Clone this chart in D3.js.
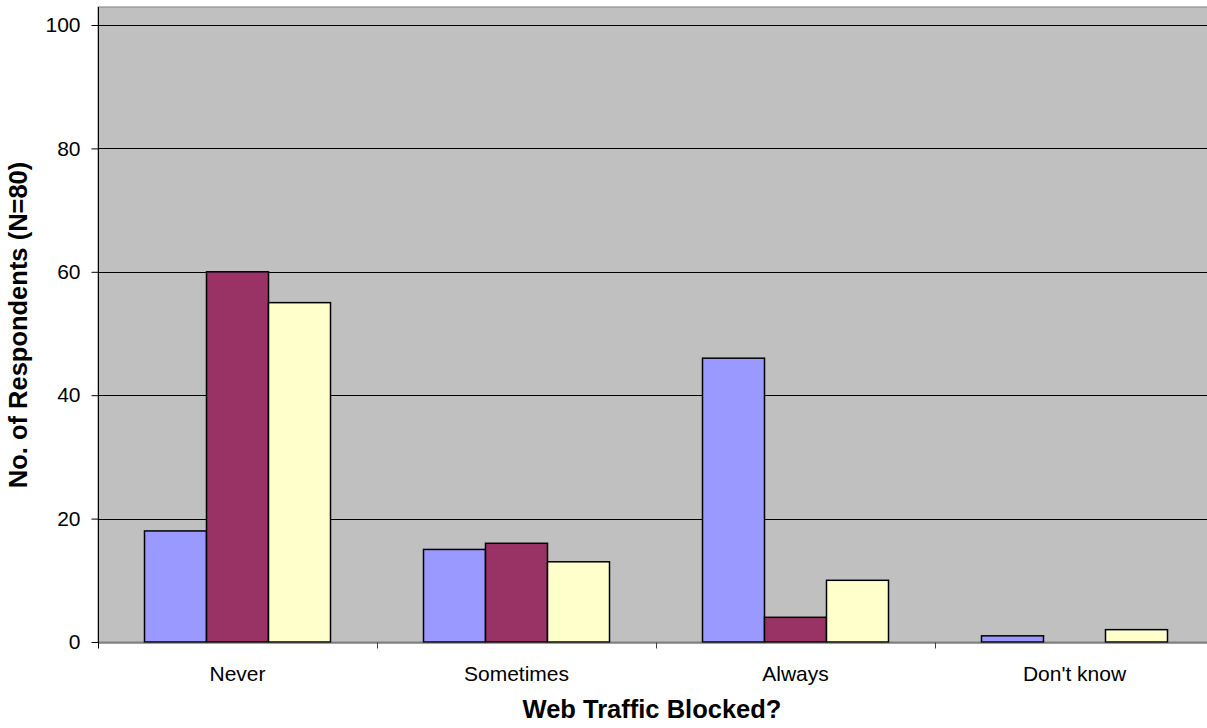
<!DOCTYPE html>
<html><head><meta charset="utf-8">
<script src="https://cdn.jsdelivr.net/npm/d3@7"></script>
<style>body{margin:0;background:#fff}svg{display:block}text{font-family:"Liberation Sans",Arial,sans-serif}</style>
</head><body><svg id="c" width="1207" height="728"></svg>
<script>
const categories = ["Never","Sometimes","Always","Don't know"];
const series1 = [18,15,46,1];
const series2 = [60,16,4,0];
const series3 = [55,13,10,2];
const colors = ["#9999FF","#993366","#FFFFCC"];
const yTicks = [0,20,40,60,80,100];

const svg = d3.select("#c");
const L = 98, R = 1214, B = 642, T100 = 25, plotTop = 7;
const x = d3.scaleBand().domain(categories).range([L,R]).paddingInner(0).paddingOuter(0);
const y = d3.scaleLinear().domain([0,100]).range([B,T100]);
const xs = d3.scaleBand().domain([0,1,2]).range([0, x.bandwidth()]).paddingInner(0).paddingOuter(0.75);

svg.append("rect").attr("x",L).attr("y",plotTop).attr("width",R-L).attr("height",B-plotTop)
  .attr("fill","#C0C0C0").attr("stroke","#808080").attr("stroke-width",1);

// gridlines
svg.append("g").selectAll("line").data(yTicks.filter(d=>d>0)).join("line")
  .attr("x1",L).attr("x2",R).attr("y1",d=>Math.round(y(d))+0.5).attr("y2",d=>Math.round(y(d))+0.5)
  .attr("stroke","#000").attr("stroke-width",1);

const data = categories.map((c,i)=>[series1[i],series2[i],series3[i]].map((v,j)=>({c,j,v})));
svg.append("g").selectAll("rect").data(data.flat().filter(d=>d.v>0)).join("rect")
  .attr("x",d=>x(d.c)+xs(d.j)).attr("width",xs.bandwidth())
  .attr("y",d=>y(d.v)).attr("height",d=>B-y(d.v))
  .attr("fill",d=>colors[d.j]).attr("stroke","#000").attr("stroke-width",1.5);

// y axis
const ya = svg.append("g").attr("transform",`translate(${L+0.5},0)`)
  .call(d3.axisLeft(y).tickValues(yTicks).tickSize(7).tickPadding(11));
ya.select(".domain").remove();
ya.append("line").attr("x1",0).attr("x2",0).attr("y1",plotTop).attr("y2",B+6).attr("stroke","#000");
ya.selectAll(".tick line").attr("stroke","#000");
ya.selectAll("text").attr("font-size",21).attr("fill","#000").style("font-family","'Liberation Sans',Arial,sans-serif");

// x axis
const xa = svg.append("g").attr("transform",`translate(0,${B+0.5})`)
  .call(d3.axisBottom(x).tickSize(0).tickPadding(24));
xa.select(".domain").attr("stroke","#404040");
xa.selectAll("text").attr("font-size",21).attr("fill","#000").style("font-family","'Liberation Sans',Arial,sans-serif");
xa.selectAll("line.sep").data(categories.slice(1)).join("line").attr("class","sep")
  .attr("x1",d=>Math.round(x(d))+0.5).attr("x2",d=>Math.round(x(d))+0.5).attr("y1",0).attr("y2",6).attr("stroke","#404040");
xa.append("line").attr("x1",L+0.5).attr("x2",L+0.5).attr("y1",0).attr("y2",6).attr("stroke","#000");

svg.append("text").attr("x",(L+R)/2-4).attr("y",718).attr("text-anchor","middle")
  .attr("font-size",25.5).attr("font-weight","bold").text("Web Traffic Blocked?");
svg.append("text").attr("transform",`translate(27,325) rotate(-90)`).attr("text-anchor","middle")
  .attr("font-size",25.5).attr("font-weight","bold").text("No. of Respondents (N=80)");
</script></body></html>
